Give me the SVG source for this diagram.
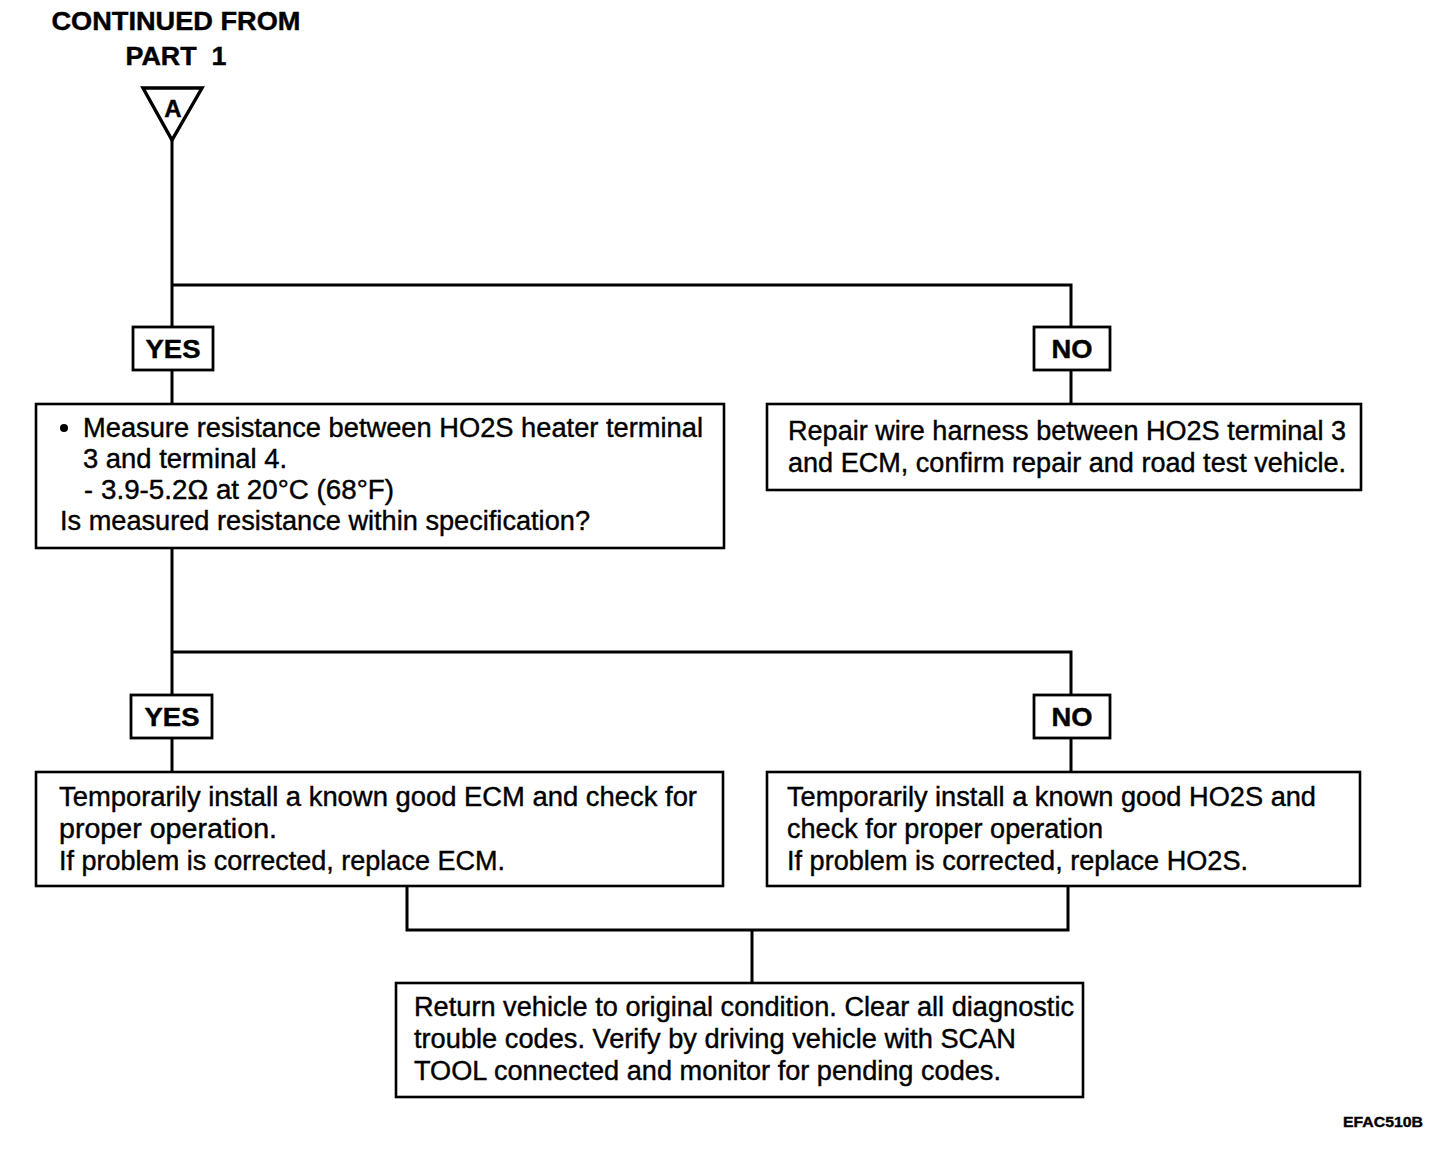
<svg xmlns="http://www.w3.org/2000/svg" width="1456" height="1162" viewBox="0 0 1456 1162">
<style>
.box{fill:#fff;stroke:#000;stroke-width:2.6}
.lbl{fill:#fff;stroke:#000;stroke-width:2.8}
.ln{fill:none;stroke:#000;stroke-width:3}
.t{font-family:"Liberation Sans",Arial,sans-serif;font-size:27px;fill:#000;stroke:#000;stroke-width:0.4}
.b{font-family:"Liberation Sans",Arial,sans-serif;font-weight:bold;fill:#000;stroke:#000;stroke-width:0.4}
</style>
<rect width="1456" height="1162" fill="#fff"/>
<g id="connectors">
<polyline class="ln" points="172,140 172,327"/>
<polyline class="ln" points="172,285 1071,285 1071,327"/>
<line class="ln" x1="172" y1="370" x2="172" y2="404"/>
<line class="ln" x1="1071" y1="370" x2="1071" y2="404"/>
<polyline class="ln" points="172,548 172,695"/>
<polyline class="ln" points="172,652 1071,652 1071,695"/>
<line class="ln" x1="172" y1="738" x2="172" y2="772"/>
<line class="ln" x1="1071" y1="738" x2="1071" y2="772"/>
<polyline class="ln" points="407,886 407,930 1068,930 1068,886"/>
<line class="ln" x1="752" y1="930" x2="752" y2="983"/>
</g>
<g id="title">
<text class="b" x="176" y="30" font-size="25" text-anchor="middle" textLength="249" lengthAdjust="spacingAndGlyphs">CONTINUED FROM</text>
<text class="b" x="176" y="65" font-size="25" text-anchor="middle" textLength="101" lengthAdjust="spacingAndGlyphs" xml:space="preserve">PART  1</text>
</g>
<g id="connector-A">
<polygon points="143,88 202,88 172,140" fill="#fff" stroke="#000" stroke-width="3.4" stroke-linejoin="miter"/>
<text class="b" x="173" y="117" font-size="24" text-anchor="middle">A</text>
</g>
<g id="yes1">
<rect class="lbl" x="133" y="327" width="80" height="43"/>
<text class="b" x="173" y="358" font-size="25" text-anchor="middle" textLength="55" lengthAdjust="spacingAndGlyphs">YES</text>
</g>
<g id="no1">
<rect class="lbl" x="1034" y="327" width="76" height="43"/>
<text class="b" x="1072" y="358" font-size="25" text-anchor="middle" textLength="41" lengthAdjust="spacingAndGlyphs">NO</text>
</g>
<g id="measure">
<rect class="box" x="36" y="404" width="688" height="144"/>
<circle cx="64" cy="428" r="4"/>
<text class="t" x="83" y="437" textLength="620" lengthAdjust="spacingAndGlyphs">Measure resistance between HO2S heater terminal</text>
<text class="t" x="83" y="468" textLength="204" lengthAdjust="spacingAndGlyphs">3 and terminal 4.</text>
<text class="t" x="84" y="499">-</text>
<text class="t" x="101" y="499" textLength="293" lengthAdjust="spacingAndGlyphs">3.9-5.2Ω at 20°C (68°F)</text>
<text class="t" x="60" y="530" textLength="530" lengthAdjust="spacingAndGlyphs">Is measured resistance within specification?</text>
</g>
<g id="repair">
<rect class="box" x="767" y="404" width="594" height="86"/>
<text class="t" x="788" y="440" textLength="558" lengthAdjust="spacingAndGlyphs">Repair wire harness between HO2S terminal 3</text>
<text class="t" x="788" y="472" textLength="558" lengthAdjust="spacingAndGlyphs">and ECM, confirm repair and road test vehicle.</text>
</g>
<g id="yes2">
<rect class="lbl" x="131" y="695" width="81" height="43"/>
<text class="b" x="172" y="726" font-size="25" text-anchor="middle" textLength="55" lengthAdjust="spacingAndGlyphs">YES</text>
</g>
<g id="no2">
<rect class="lbl" x="1034" y="695" width="76" height="43"/>
<text class="b" x="1072" y="726" font-size="25" text-anchor="middle" textLength="41" lengthAdjust="spacingAndGlyphs">NO</text>
</g>
<g id="ecm">
<rect class="box" x="36" y="772" width="687" height="114"/>
<text class="t" x="59" y="806" textLength="638" lengthAdjust="spacingAndGlyphs">Temporarily install a known good ECM and check for</text>
<text class="t" x="59" y="838" textLength="218" lengthAdjust="spacingAndGlyphs">proper operation.</text>
<text class="t" x="59" y="870" textLength="446" lengthAdjust="spacingAndGlyphs">If problem is corrected, replace ECM.</text>
</g>
<g id="ho2s">
<rect class="box" x="767" y="772" width="593" height="114"/>
<text class="t" x="787" y="806" textLength="529" lengthAdjust="spacingAndGlyphs">Temporarily install a known good HO2S and</text>
<text class="t" x="787" y="838" textLength="316" lengthAdjust="spacingAndGlyphs">check for proper operation</text>
<text class="t" x="787" y="870" textLength="461" lengthAdjust="spacingAndGlyphs">If problem is corrected, replace HO2S.</text>
</g>
<g id="return">
<rect class="box" x="396" y="983" width="687" height="114"/>
<text class="t" x="414" y="1016" textLength="660" lengthAdjust="spacingAndGlyphs">Return vehicle to original condition. Clear all diagnostic</text>
<text class="t" x="414" y="1048" textLength="602" lengthAdjust="spacingAndGlyphs">trouble codes. Verify by driving vehicle with SCAN</text>
<text class="t" x="414" y="1080" textLength="587" lengthAdjust="spacingAndGlyphs">TOOL connected and monitor for pending codes.</text>
</g>
<g id="code">
<text class="b" x="1343" y="1127" font-size="15" textLength="80" lengthAdjust="spacingAndGlyphs">EFAC510B</text>
</g>
</svg>
